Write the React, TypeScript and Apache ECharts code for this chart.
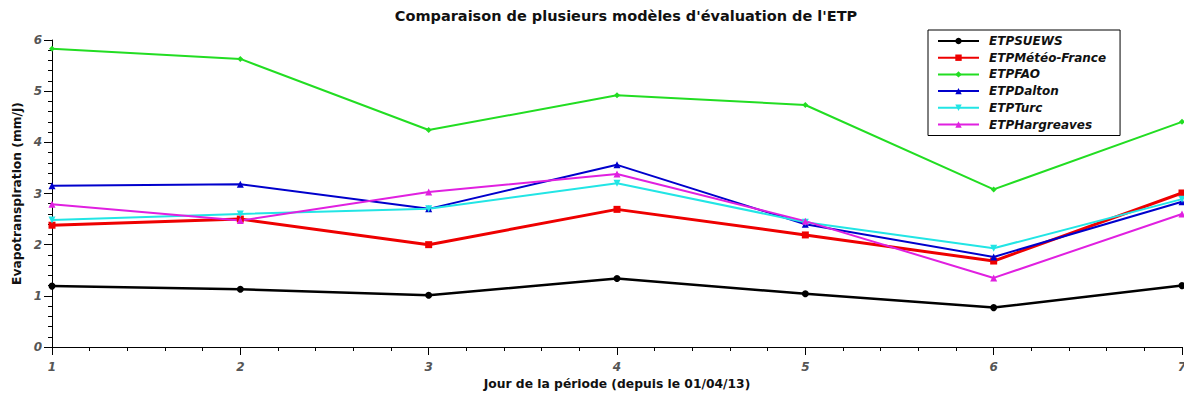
import React, { useEffect, useRef } from "react";
import * as echarts from "echarts";

const days = [1, 2, 3, 4, 5, 6, 7];
const seriesNames = ["ETPSUEWS", "ETPMétéo-France", "ETPFAO", "ETPDalton", "ETPTurc", "ETPHargreaves"];
const etpSuews = [1.19, 1.13, 1.01, 1.34, 1.04, 0.77, 1.2];
const etpMeteoFrance = [2.38, 2.5, 2.0, 2.69, 2.19, 1.68, 3.01];
const etpFao = [5.83, 5.63, 4.24, 4.92, 4.73, 3.08, 4.4];
const etpDalton = [3.15, 3.18, 2.7, 3.56, 2.4, 1.76, 2.84];
const etpTurc = [2.48, 2.6, 2.7, 3.2, 2.44, 1.93, 2.89];
const etpHargreaves = [2.79, 2.47, 3.03, 3.38, 2.46, 1.35, 2.6];

const FONT = "DejaVu Sans";

export default function App() {
  const ref = useRef<HTMLDivElement>(null);
  useEffect(() => {
    if (!ref.current) return;
    const chart = echarts.init(ref.current, null, { renderer: "svg" });
    const mk = (
      name: string,
      vals: number[],
      color: string,
      symbol: string,
      symbolSize: number,
      width: number
    ) => ({
      name,
      type: "line",
      data: days.map((d, i) => [d, vals[i]]),
      symbol,
      symbolSize,
      showAllSymbol: true,
      lineStyle: { color, width },
      itemStyle: { color },
      z: 2,
    });
    const invTri = "path://M0,0 L10,0 L5,9 Z";
    chart.setOption({
      animation: false,
      backgroundColor: "#fff",
      title: {
        text: "Comparaison de plusieurs modèles d'évaluation de l'ETP",
        left: 621,
        textAlign: "center",
        top: 3,
        textStyle: { fontFamily: FONT, fontSize: 14.5, fontWeight: "bold", color: "#111" },
      },
      legend: {
        orient: "vertical",
        left: 928,
        top: 30,
        padding: [5, 14, 5, 9],
        itemGap: 4.7,
        itemWidth: 41,
        itemHeight: 8,
        borderColor: "#000",
        borderWidth: 1,
        backgroundColor: "#fff",
        borderRadius: 0,
        data: seriesNames,
        textStyle: {
          fontFamily: FONT,
          fontSize: 12,
          fontWeight: "bold",
          fontStyle: "italic",
          color: "#111",
          padding: [0, 0, 0, 5],
        },
      },
      grid: { left: 52, right: 10, top: 40, bottom: 54 },
      xAxis: {
        type: "value",
        min: 1,
        max: 7,
        interval: 1,
        name: "Jour de la période (depuis le 01/04/13)",
        nameLocation: "middle",
        nameGap: 31,
        nameTextStyle: { fontFamily: FONT, fontSize: 12.3, fontWeight: "bold", color: "#111" },
        axisLine: { lineStyle: { color: "#000", width: 1 } },
        axisTick: { show: true, length: 8, lineStyle: { color: "#000" } },
        minorTick: { show: true, splitNumber: 5, length: 4, lineStyle: { color: "#000" } },
        splitLine: { show: false },
        axisLabel: {
          margin: 14,
          fontFamily: FONT,
          fontSize: 12,
          fontWeight: "bold",
          fontStyle: "italic",
          color: "#555",
        },
      },
      yAxis: {
        type: "value",
        min: 0,
        max: 6,
        interval: 1,
        name: "Evapotranspiration (mm/j)",
        nameLocation: "middle",
        nameGap: 28,
        nameTextStyle: { fontFamily: FONT, fontSize: 12.3, fontWeight: "bold", color: "#111" },
        axisLine: { show: true, lineStyle: { color: "#000", width: 1 } },
        axisTick: { show: true, length: 8, lineStyle: { color: "#000" } },
        minorTick: { show: true, splitNumber: 5, length: 4, lineStyle: { color: "#000" } },
        splitLine: { show: false },
        axisLabel: {
          margin: 10,
          fontFamily: FONT,
          fontSize: 12,
          fontWeight: "bold",
          fontStyle: "italic",
          color: "#555",
        },
      },
      series: [
        mk(seriesNames[0], etpSuews, "#000000", "circle", 7, 2.5),
        mk(seriesNames[1], etpMeteoFrance, "#ee0000", "rect", 7, 3),
        mk(seriesNames[2], etpFao, "#22dd22", "diamond", 6, 2),
        mk(seriesNames[3], etpDalton, "#0000cc", "triangle", 7, 2),
        mk(seriesNames[4], etpTurc, "#22e5e5", invTri, 7, 2),
        mk(seriesNames[5], etpHargreaves, "#e020e0", "triangle", 7, 2),
      ],
    });
    return () => chart.dispose();
  }, []);
  return <div ref={ref} style={{ width: 1192, height: 401, margin: -8 }} />;
}
